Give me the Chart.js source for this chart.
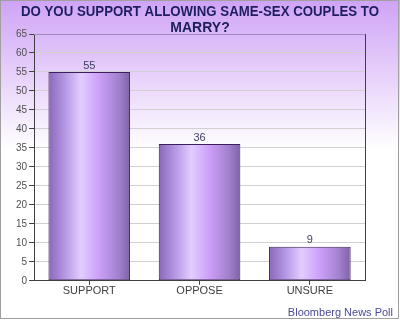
<!DOCTYPE html>
<html>
<head>
<meta charset="utf-8">
<script src="https://cdn.jsdelivr.net/npm/chart.js@4.4.1/dist/chart.umd.min.js"></script>
<style>
  html, body { margin: 0; padding: 0; background: #fff; }
  #wrap { width: 400px; height: 320px; }
</style>
</head>
<body>
<div id="wrap"><canvas id="chart" width="400" height="320"></canvas></div>
<script>
const categories = ["SUPPORT", "OPPOSE", "UNSURE"];
const values = [55, 36, 9];
const titleLines = ["DO YOU SUPPORT ALLOWING SAME-SEX COUPLES TO", "MARRY?"];
const sourceText = "Bloomberg News Poll";
const BAR_PCT = 0.74;

// fundo com degradê roxo e borda cinza
const backdrop = {
  id: "backdrop",
  beforeDraw(chart) {
    const { ctx, width, height } = chart;
    ctx.save();
    const g = ctx.createLinearGradient(0, 0, 0, height);
    g.addColorStop(0, "#cfa3f6");
    g.addColorStop(0.47, "#ffffff");
    g.addColorStop(1, "#ffffff");
    ctx.fillStyle = g;
    ctx.fillRect(0, 0, width, height);
    ctx.strokeStyle = "#a0a0a0";
    ctx.lineWidth = 1;
    ctx.strokeRect(0.5, 0.5, width - 2, height - 2);
    ctx.restore();
  },
  afterDraw(chart) {
    const { ctx, chartArea: a, width } = chart;
    ctx.save();
    // título
    ctx.fillStyle = "#1e1e5c";
    ctx.font = "bold 14px 'Liberation Sans', Arial, sans-serif";
    ctx.textAlign = "center";
    ctx.textBaseline = "middle";
    ctx.fillText(titleLines[0], width / 2, 12, 358);
    ctx.fillText(titleLines[1], width / 2, 28, 358);
    // bordas da área do gráfico
    ctx.strokeStyle = "#a08cc0";
    ctx.beginPath();
    ctx.moveTo(a.left, a.top + 0.5);
    ctx.lineTo(a.right, a.top + 0.5);
    ctx.stroke();
    ctx.strokeStyle = "#404040";
    ctx.beginPath();
    ctx.moveTo(a.right + 0.5, a.top);
    ctx.lineTo(a.right + 0.5, a.bottom);
    ctx.stroke();
    // rótulos de valor
    const meta = chart.getDatasetMeta(0);
    ctx.fillStyle = "#404060";
    ctx.font = "11px 'Liberation Sans', Arial, sans-serif";
    ctx.textBaseline = "bottom";
    meta.data.forEach((bar, i) => {
      ctx.fillText(String(values[i]), bar.x, bar.y - 1);
    });
    // fonte
    ctx.fillStyle = "#4a4a9a";
    ctx.textAlign = "right";
    ctx.font = "11px 'Liberation Sans', Arial, sans-serif";
    ctx.textBaseline = "middle";
    ctx.fillText(sourceText, 393, 313);
    ctx.restore();
  }
};

function barFill(context) {
  const chart = context.chart;
  const x = chart.scales.x;
  if (!x || !chart.chartArea) return "#b890e8";
  const center = x.getPixelForValue(context.dataIndex);
  const half = (chart.chartArea.width / categories.length) * BAR_PCT / 2;
  const g = chart.ctx.createLinearGradient(center - half, 0, center + half, 0);
  g.addColorStop(0, "#8a68b8");
  g.addColorStop(0.18, "#b092e0");
  g.addColorStop(0.4, "#e2cdff");
  g.addColorStop(0.62, "#cc9ff8");
  g.addColorStop(0.85, "#a482d0");
  g.addColorStop(1, "#7e62a6");
  return g;
}

new Chart(document.getElementById("chart"), {
  type: "bar",
  data: {
    labels: categories,
    datasets: [{
      data: values,
      backgroundColor: barFill,
      borderColor: "#3c1e58",
      borderWidth: 1,
      borderSkipped: false,
      barPercentage: BAR_PCT,
      categoryPercentage: 1
    }]
  },
  options: {
    responsive: false,
    animation: false,
    layout: { padding: { top: 34, right: 35, bottom: 22, left: 14 } },
    plugins: { legend: { display: false }, tooltip: { enabled: false } },
    scales: {
      x: {
        grid: { display: true, drawOnChartArea: false, tickLength: 4, color: "#404040", offset: false },
        border: { color: "#404040" },
        ticks: { color: "#404040", font: { size: 11, family: "'Liberation Sans', Arial, sans-serif" }, padding: 0 }
      },
      y: {
        min: 0,
        max: 65,
        ticks: { stepSize: 5, color: "#505050", font: { size: 10, family: "'Liberation Sans', Arial, sans-serif" }, padding: 2 },
        grid: { color: "#d0d0d0", tickLength: 5, tickColor: "#404040" },
        border: { color: "#404040" }
      }
    }
  },
  plugins: [backdrop]
});
</script>
</body>
</html>
